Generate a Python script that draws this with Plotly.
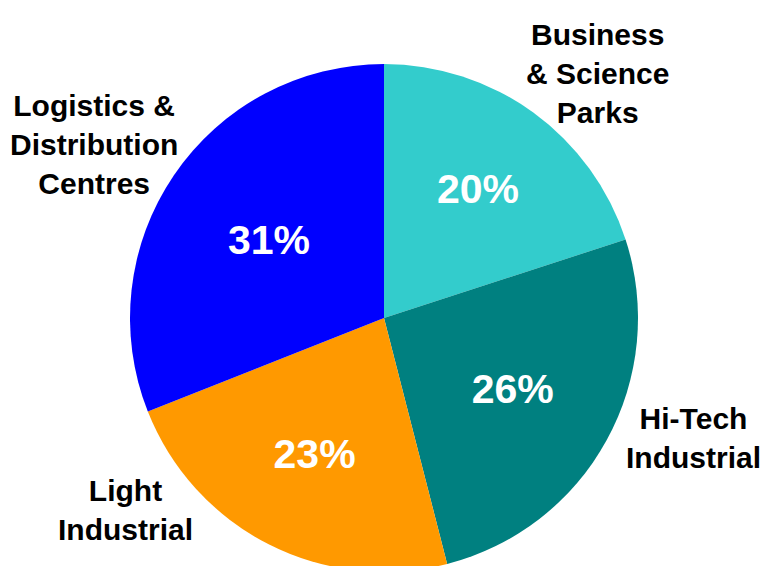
import plotly.graph_objects as go

categories = ["Business & Science Parks", "Hi-Tech Industrial", "Light Industrial", "Logistics & Distribution Centres"]
label_lines = ["Business<br>& Science<br>Parks", "Hi-Tech<br>Industrial", "Light<br>Industrial", "Logistics &<br>Distribution<br>Centres"]
values = [20, 26, 23, 31]
colors = ["#33CCCC", "#008080", "#FF9900", "#0000FF"]

W, H = 766, 600
# pie placement in pixels (centre 384,318 radius 254)
cx, cy, r = 384, 318, 254
label_pos = [(597, 74), (693, 438), (126, 510), (94, 144)]

fig = go.Figure(go.Pie(
    labels=categories,
    values=values,
    sort=False,
    direction="clockwise",
    rotation=0,
    marker=dict(colors=colors, line=dict(width=0)),
    textinfo="percent",
    texttemplate="%{percent:.0%}",
    textposition="inside",
    insidetextorientation="horizontal",
    insidetextfont=dict(family="Liberation Sans, Arial, sans-serif", size=41, color="white", weight="bold"),
    showlegend=False,
    hoverinfo="label+percent",
    domain=dict(x=[(cx - r) / W, (cx + r) / W], y=[1 - (cy + r) / H, 1 - (cy - r) / H]),
))

for txt, (px, py) in zip(label_lines, label_pos):
    fig.add_annotation(
        text=txt, x=px / W, y=1 - py / H, xref="paper", yref="paper",
        showarrow=False, xanchor="center", yanchor="middle", align="center",
        font=dict(family="Liberation Sans, Arial, sans-serif", size=30, color="black", weight="bold"),
    )

fig.update_layout(
    width=W, height=H,
    margin=dict(l=0, r=0, t=0, b=0),
    paper_bgcolor="white", plot_bgcolor="white",
)

fig.write_html(
    "out.html",
    config={"displayModeBar": False},
    post_script="document.body.style.margin='0';document.body.style.overflow='hidden';document.documentElement.style.overflow='hidden';",
)
